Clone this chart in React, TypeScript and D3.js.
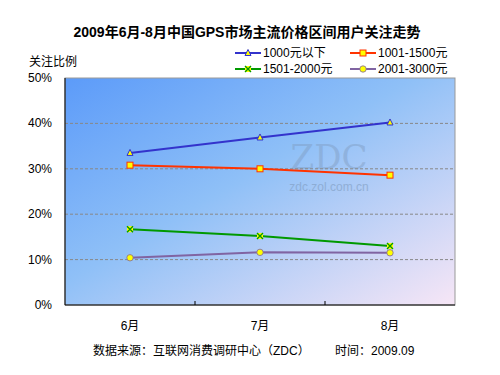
import React, { useEffect, useRef } from 'react';
import * as d3 from 'd3';

const months = ['6月', '7月', '8月'];
const yTicks = [0, 10, 20, 30, 40, 50];
const seriesNames = ['1000元以下', '1001-1500元', '1501-2000元', '2001-3000元'];
const under1000 = [33.5, 36.9, 40.2];
const r1001to1500 = [30.8, 30.0, 28.6];
const r1501to2000 = [16.7, 15.2, 13.0];
const r2001to3000 = [10.4, 11.6, 11.5];

export default function App() {
  const ref = useRef<SVGSVGElement | null>(null);

  useEffect(() => {
    const svg = d3.select(ref.current);
    svg.selectAll('*').remove();

    const W = 500, H = 375;
    const left = 65, right = 455, top = 78, bottom = 305;
    const font = 'Arial, "Liberation Sans", "Noto Sans CJK SC", sans-serif';

    svg.attr('width', W).attr('height', H).style('display', 'block').style('font-family', font);
    svg.append('rect').attr('width', W).attr('height', H).attr('fill', '#fff');

    const defs = svg.append('defs');
    const grad = defs.append('linearGradient').attr('id', 'bg')
      .attr('x1', '0%').attr('y1', '0%').attr('x2', '100%').attr('y2', '100%');
    grad.append('stop').attr('offset', '0%').attr('stop-color', '#5c9bf9');
    grad.append('stop').attr('offset', '45%').attr('stop-color', '#8fc0f7');
    grad.append('stop').attr('offset', '100%').attr('stop-color', '#f7e6f6');

    const x = d3.scaleBand().domain(months).range([left, right]);
    const y = d3.scaleLinear().domain([0, 50]).range([bottom, top]);

    svg.append('rect').attr('x', left).attr('y', top).attr('width', right - left).attr('height', bottom - top)
      .attr('fill', 'url(#bg)').attr('stroke', '#999').attr('stroke-width', 1);

    // watermark
    svg.append('text').attr('x', 329).attr('y', 169).attr('text-anchor', 'middle')
      .attr('font-family', '"DejaVu Serif", "Liberation Serif", serif').attr('font-size', 34)
      .attr('fill', '#7f9cc0').attr('opacity', 0.45).text('ZDC');
    svg.append('text').attr('x', 329).attr('y', 191).attr('text-anchor', 'middle')
      .attr('font-size', 12).attr('fill', '#7f9cc0').attr('opacity', 0.6).text('zdc.zol.com.cn');

    // grid
    svg.append('g').selectAll('line').data(yTicks.filter(t => t > 0 && t < 50)).join('line')
      .attr('x1', left).attr('x2', right).attr('y1', d => y(d)).attr('y2', d => y(d))
      .attr('stroke', '#888').attr('stroke-dasharray', '3,2').attr('stroke-width', 1);

    // axes
    svg.append('line').attr('x1', left).attr('x2', left).attr('y1', top).attr('y2', bottom).attr('stroke', '#000');
    svg.append('line').attr('x1', left).attr('x2', right).attr('y1', bottom).attr('y2', bottom).attr('stroke', '#000');
    svg.append('g').selectAll('line').data(months.slice(1)).join('line')
      .attr('x1', d => x(d)!).attr('x2', d => x(d)!).attr('y1', bottom).attr('y2', bottom - 4).attr('stroke', '#000');

    svg.append('g').selectAll('text').data(yTicks).join('text')
      .attr('x', 52).attr('y', d => y(d) + 4).attr('text-anchor', 'end')
      .attr('font-size', 12).attr('fill', '#000').text(d => `${d}%`);
    svg.append('g').selectAll('text').data(months).join('text')
      .attr('x', d => x(d)! + x.bandwidth() / 2).attr('y', 330).attr('text-anchor', 'middle')
      .attr('font-size', 12).attr('fill', '#000').text(d => d);

    svg.append('text').attr('x', 247).attr('y', 37).attr('text-anchor', 'middle')
      .attr('font-size', 14).attr('font-weight', 'bold').attr('fill', '#000')
      .text('2009年6月-8月中国GPS市场主流价格区间用户关注走势');
    svg.append('text').attr('x', 29).attr('y', 66).attr('font-size', 12).attr('fill', '#000').text('关注比例');
    svg.append('text').attr('x', 93).attr('y', 355).attr('font-size', 12).attr('fill', '#000')
      .text('数据来源：互联网消费调研中心（ZDC）');
    svg.append('text').attr('x', 335).attr('y', 355).attr('font-size', 12).attr('fill', '#000')
      .text('时间：2009.09');

    const series = [
      { name: seriesNames[0], values: under1000, color: '#3333cc', marker: 'tri' },
      { name: seriesNames[1], values: r1001to1500, color: '#ff3300', marker: 'sq' },
      { name: seriesNames[2], values: r1501to2000, color: '#009900', marker: 'x' },
      { name: seriesNames[3], values: r2001to3000, color: '#8064a2', marker: 'circle' },
    ];

    const drawMarker = (g: d3.Selection<SVGGElement, unknown, null, undefined>, type: string, color: string, cx: number, cy: number) => {
      if (type === 'tri') {
        g.append('path').attr('d', `M${cx},${cy - 3.5}L${cx + 3},${cy + 2.5}L${cx - 3},${cy + 2.5}Z`)
          .attr('fill', '#ffff00').attr('stroke', color).attr('stroke-width', 1);
      } else if (type === 'sq') {
        g.append('rect').attr('x', cx - 3).attr('y', cy - 3).attr('width', 6).attr('height', 6)
          .attr('fill', '#ffff00').attr('stroke', color).attr('stroke-width', 1);
      } else if (type === 'x') {
        g.append('rect').attr('x', cx - 3).attr('y', cy - 3).attr('width', 6).attr('height', 6).attr('fill', '#ffff00');
        g.append('path').attr('d', `M${cx - 3},${cy - 3}L${cx + 3},${cy + 3}M${cx + 3},${cy - 3}L${cx - 3},${cy + 3}`)
          .attr('stroke', color).attr('stroke-width', 1.4);
      } else {
        g.append('circle').attr('cx', cx).attr('cy', cy).attr('r', 3.2)
          .attr('fill', '#ffff00').attr('stroke', color).attr('stroke-width', 0.8);
      }
    };

    const line = d3.line<number>().x((_, i) => x(months[i])! + x.bandwidth() / 2).y(d => y(d));

    series.forEach(s => {
      svg.append('path').datum(s.values).attr('d', line).attr('fill', 'none')
        .attr('stroke', s.color).attr('stroke-width', 2);
      const g = svg.append('g');
      s.values.forEach((v, i) => drawMarker(g, s.marker, s.color, x(months[i])! + x.bandwidth() / 2, y(v)));
    });

    // legend
    const legendPos = [[235, 53], [350, 53], [235, 69], [350, 69]];
    series.forEach((s, i) => {
      const [lx, ly] = legendPos[i];
      const g = svg.append('g');
      g.append('line').attr('x1', lx).attr('x2', lx + 26).attr('y1', ly).attr('y2', ly)
        .attr('stroke', s.color).attr('stroke-width', 2);
      drawMarker(g, s.marker, s.color, lx + 13, ly);
      g.append('text').attr('x', lx + 28).attr('y', ly + 4).attr('font-size', 12).attr('fill', '#000').text(s.name);
    });
  }, []);

  return <svg ref={ref} style={{ position: 'absolute', left: 0, top: 0 }} />;
}
